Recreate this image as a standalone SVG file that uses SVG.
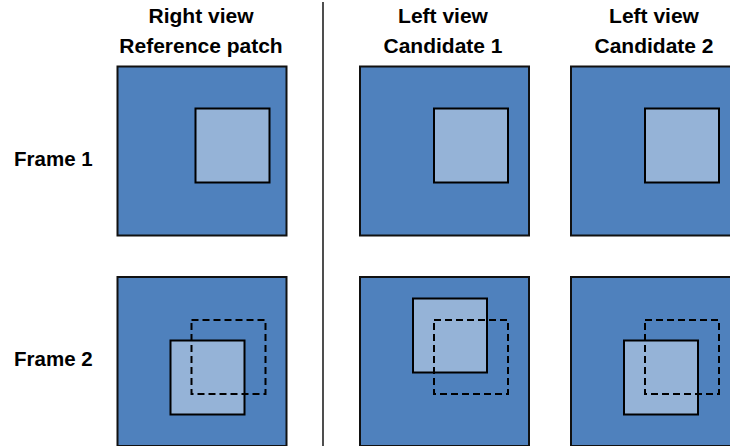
<svg xmlns="http://www.w3.org/2000/svg" width="730" height="446" viewBox="0 0 730 446">
  <style>
    .lbl { font-family: "Liberation Sans", Arial, sans-serif; font-weight: bold; font-size: 20.5px; fill: #000; }
    .hdr { text-anchor: middle; font-size: 21px; }
    .outer { fill: #4F81BD; stroke: #111; stroke-width: 2; }
    .inner { fill: #95B3D7; stroke: #000; stroke-width: 2; }
    .dash { fill: none; stroke: #000; stroke-width: 2; stroke-dasharray: 7 4; }
    .divider { stroke: #222; stroke-width: 1.6; }
  </style>
  <rect width="730" height="446" fill="#fff"/>

  <!-- column headers -->
  <g id="header-right">
    <text class="lbl hdr" x="201" y="23">Right view</text>
    <text class="lbl hdr" x="201" y="53">Reference patch</text>
  </g>
  <g id="header-cand1">
    <text class="lbl hdr" x="443" y="23">Left view</text>
    <text class="lbl hdr" x="443" y="53">Candidate 1</text>
  </g>
  <g id="header-cand2">
    <text class="lbl hdr" x="654" y="23">Left view</text>
    <text class="lbl hdr" x="654" y="53">Candidate 2</text>
  </g>

  <!-- row labels -->
  <g id="row-frame1"><text class="lbl" x="14" y="166">Frame 1</text></g>
  <g id="row-frame2"><text class="lbl" x="14" y="366">Frame 2</text></g>

  <!-- separator between views -->
  <g id="connectors">
    <line class="divider" x1="323" y1="2" x2="323" y2="446"/>
  </g>

  <!-- Frame 1 -->
  <g id="f1-right">
    <rect class="outer" x="117.5" y="66.5" width="169" height="169"/>
    <rect class="inner" x="195.5" y="108.5" width="74" height="74"/>
  </g>
  <g id="f1-cand1">
    <rect class="outer" x="360" y="66.5" width="169" height="169"/>
    <rect class="inner" x="434" y="108.5" width="74" height="74"/>
  </g>
  <g id="f1-cand2">
    <rect class="outer" x="571" y="66.5" width="169" height="169"/>
    <rect class="inner" x="645" y="108.5" width="74" height="74"/>
  </g>

  <!-- Frame 2 -->
  <g id="f2-right">
    <rect class="outer" x="117.5" y="277" width="169" height="169"/>
    <rect class="inner" x="170.5" y="340.5" width="74" height="74"/>
    <rect class="dash" x="191.5" y="320" width="74" height="74"/>
  </g>
  <g id="f2-cand1">
    <rect class="outer" x="360" y="277" width="169" height="169"/>
    <rect class="inner" x="413" y="298.5" width="74" height="74"/>
    <rect class="dash" x="434" y="320" width="74" height="74"/>
  </g>
  <g id="f2-cand2">
    <rect class="outer" x="571" y="277" width="169" height="169"/>
    <rect class="inner" x="624" y="340.5" width="74" height="74"/>
    <rect class="dash" x="645" y="320" width="74" height="74"/>
  </g>
</svg>
